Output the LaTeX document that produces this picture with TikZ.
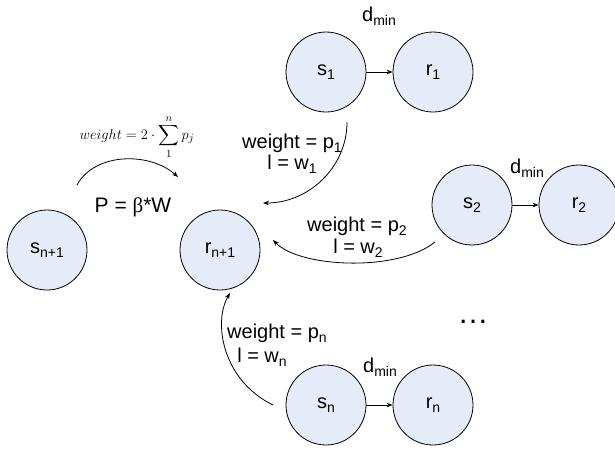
\documentclass[tikz,border=0pt]{standalone}
\usepackage{exscale}
\usepackage[no-math]{fontspec}
\setmainfont{Liberation Sans}
\newfontfamily\serifgr{Liberation Serif}
\usetikzlibrary{arrows.meta}
\definecolor{nodefill}{RGB}{230,236,247}
\newcommand\lw[1]{\raisebox{-4pt}{\fontsize{14}{14}\selectfont #1}}
\begin{document}
\begin{tikzpicture}[x=1pt,y=-1pt,
  stn/.style={circle, draw, line width=0.8pt, fill=nodefill, minimum size=80pt, inner sep=0pt, font=\fontsize{20}{24}\selectfont},
  lbl/.style={font=\fontsize{20}{24}\selectfont, inner sep=0pt, anchor=base},
  arr/.style={-{Stealth[length=6pt,width=4.5pt]}, line width=0.8pt}]
\useasboundingbox (0,0) rectangle (615,448);
% circles
\node[stn] (s1) at (326,72) {s\lw{1}};
\node[stn] (r1) at (433,72) {r\lw{1}};
\node[stn] (s2) at (472,205) {s\lw{2}};
\node[stn] (r2) at (579,205) {r\lw{2}};
\node[stn] (sn) at (326,405) {s\lw{n}};
\node[stn] (rn) at (433,405) {r\lw{n}};
\node[stn] (snp) at (47,250) {s\lw{n+1}};
\node[stn] (rnp) at (220,250) {r\lw{n+1}};
% straight arrows
\draw[arr] (s1) -- (r1);
\draw[arr] (s2) -- (r2);
\draw[arr] (sn) -- (rn);
% d_min labels
\node[lbl] (d1) at (379,21) {d\lw{min}};
\node[lbl] (d2) at (527,173) {d\lw{min}};
\node[lbl] (dn) at (380,372) {d\lw{min}};
% curved arrows
\coordinate (a1s) at (347,122);
\coordinate (a1e) at (263,203);
\draw[arr] (a1s) .. controls (347,167) and (309,203) .. (a1e);
\coordinate (a2s) at (435,242);
\coordinate (a2e) at (273,240);
\draw[arr] (a2s) .. controls (398,272) and (300,268) .. (a2e);
\coordinate (a3s) at (273,405);
\coordinate (a3e) at (230,293);
\draw[arr] (a3s) .. controls (222,380) and (213,322) .. (a3e);
\coordinate (a4s) at (77,185);
\coordinate (a4e) at (178,177);
\draw[arr] (a4s) .. controls (95,152) and (150,152) .. (a4e);
% weight labels
\node[lbl] (w1) at (292,148) {weight = p\lw{1}};
\node[lbl] (l1) at (292,169) {l = w\lw{1}};
\node[lbl] (w2) at (357,231) {weight = p\lw{2}};
\node[lbl] (l2) at (358,253) {l = w\lw{2}};
\node[lbl] (wn) at (277,338) {weight = p\lw{n}};
\node[lbl] (ln) at (262,362) {l = w\lw{n}};
% P label and formula
\node[lbl, font=\fontsize{21}{25}\selectfont] (P) at (133,212) {P = {\serifgr β}*W};
\node[inner sep=0pt, font=\fontsize{15.5}{19}\selectfont] (f) at (137,137) {$\displaystyle weight = 2\cdot\sum_{1}^{n} p_j$};
% dots
\node[inner sep=0pt, font=\fontsize{31}{31}\selectfont] (dots) at (473,322) {…};
\end{tikzpicture}
\end{document}
